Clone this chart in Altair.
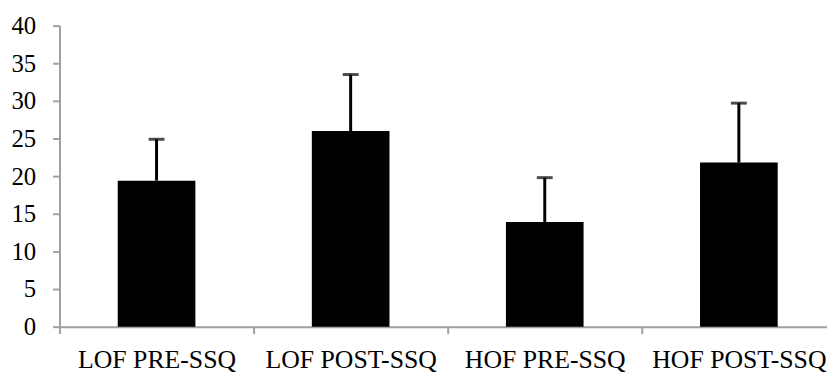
import json
import altair as alt
import pandas as pd

categories = ["LOF PRE-SSQ", "LOF POST-SSQ", "HOF PRE-SSQ", "HOF POST-SSQ"]
means = [19.4, 26.0, 13.9, 21.8]
upper = [24.9, 33.5, 19.8, 29.7]
y_ticks = [0, 5, 10, 15, 20, 25, 30, 35, 40]

df = pd.DataFrame({"cat": categories, "mean": means, "upper": upper})

FONT = "Liberation Serif"
AXC = "#a0a0a0"
W = 775
STEP = 196  # pixels per category in the reference (plot runs past the right edge)

cats_js = json.dumps(categories)
x_axis = alt.Axis(
    title=None, grid=False, labelAngle=0, labelFont=FONT, labelFontSize=26, labelColor="black",
    domainColor=AXC, domainWidth=2, tickColor=AXC, tickWidth=2, tickSize=7,
    values=[0, 0.5, 1, 1.5, 2, 2.5, 3, 3.5],
    labelExpr=f"datum.value % 1 == 0 ? '' : {cats_js}[floor(datum.value)]",
    tickOpacity={"condition": {"test": "datum.value % 1 == 0", "value": 1}, "value": 0},
    labelPadding=13, labelLimit=300, labelOverlap=False, labelFlush=False,
)
x_scale = alt.Scale(domain=[0, W / STEP], nice=False, zero=False, padding=0)
y_scale = alt.Scale(domain=[0, 40], nice=False)
y_axis = alt.Axis(
    title=None, values=y_ticks, grid=False,
    labelFont=FONT, labelFontSize=25, labelColor="black", labelOverlap=False,
    domainColor=AXC, domainWidth=2, tickColor=AXC, tickWidth=2, tickSize=7,
    labelPadding=17,
)

def X():
    return alt.X("pos:Q", scale=x_scale, axis=x_axis)

base = alt.Chart(df).transform_calculate(
    pos=f"indexof({cats_js}, datum.cat) + 0.5"
)
bars = base.mark_bar(color="black", width=STEP * 0.4).encode(
    x=X(), y=alt.Y("mean:Q", scale=y_scale, axis=y_axis)
)
rules = base.mark_rule(color="black", strokeWidth=3).encode(
    x=X(), y=alt.Y("mean:Q", scale=y_scale, axis=y_axis), y2="upper:Q"
)
caps = base.mark_tick(color="black", size=16, thickness=3, orient="horizontal").encode(
    x=X(), y=alt.Y("upper:Q", scale=y_scale, axis=y_axis)
)

chart = (
    alt.layer(bars, rules, caps)
    .properties(
        width=W, height=304, autosize=alt.AutoSizeParams(type="none"),
        padding={"left": 52, "top": 16, "right": 0, "bottom": 45},
    )
    .configure_view(stroke=None)
)

chart.save("out.html", embed_options={"renderer": "svg", "actions": False})
